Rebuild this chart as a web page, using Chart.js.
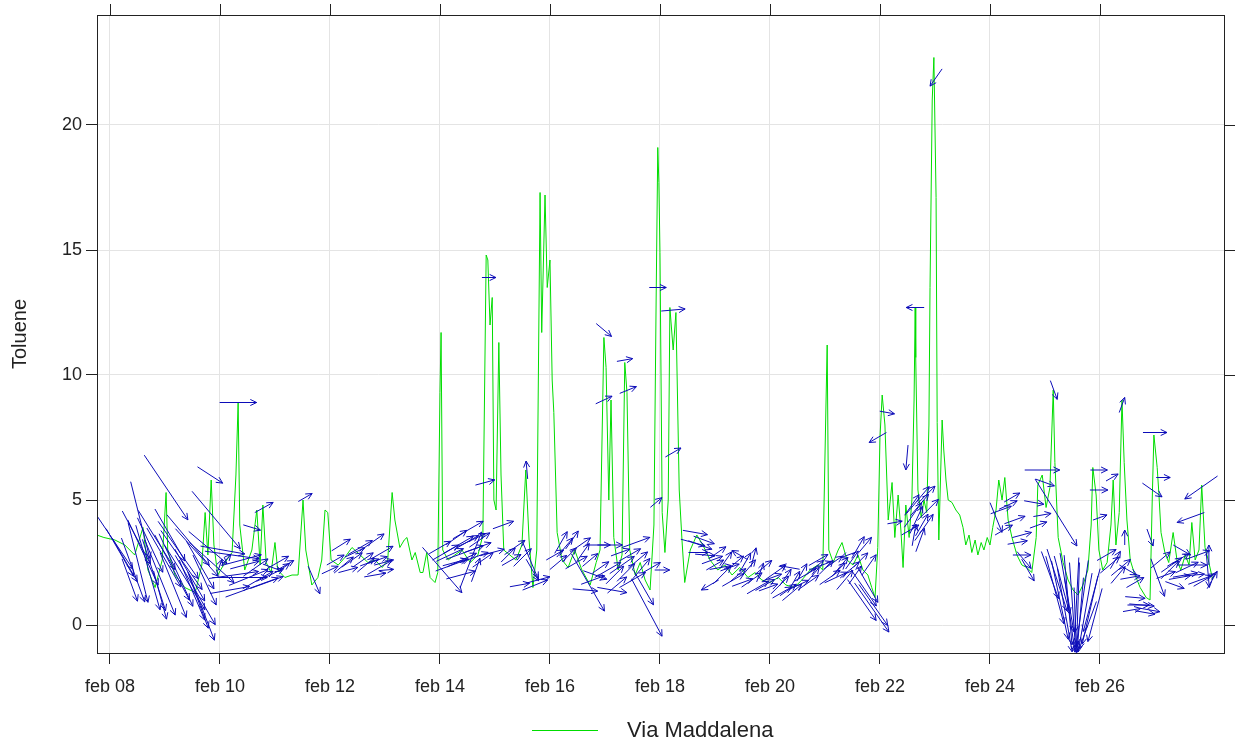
<!DOCTYPE html>
<html>
<head>
<meta charset="utf-8">
<title>Toluene - Via Maddalena</title>
<script src="https://cdn.jsdelivr.net/npm/chart.js@4/dist/chart.umd.min.js"></script>
<style>
  html, body { margin: 0; padding: 0; background: #fff; }
  canvas { display: block; }
</style>
</head>
<body>
<canvas id="grafico" width="1236" height="746"></canvas>
<script>
// concentracion de tolueno (dia de febrero, valor)
const dias = [
  7.76, 7.89, 8.09, 8.27, 8.45, 8.60, 8.69, 8.82, 8.95, 9.02, 9.05, 9.18, 9.36, 9.55, 9.67, 9.73, 9.78, 9.84, 9.89, 9.96,
  10.09, 10.22, 10.29, 10.33, 10.36, 10.45, 10.58, 10.67, 10.73, 10.78, 10.84, 10.93, 11.00, 11.05, 11.18, 11.31, 11.42, 11.51, 11.56, 11.67,
  11.78, 11.85, 11.91, 11.96, 12.02, 12.15, 12.27, 12.40, 12.55, 12.69, 12.82, 12.95, 13.05, 13.13, 13.18, 13.27, 13.35, 13.40, 13.49, 13.55,
  13.64, 13.69, 13.76, 13.82, 13.91, 13.96, 14.00, 14.02, 14.05, 14.15, 14.27, 14.40, 14.55, 14.69, 14.78, 14.84, 14.87, 14.91, 14.95, 14.98,
  15.02, 15.07, 15.11, 15.16, 15.27, 15.38, 15.49, 15.56, 15.62, 15.69, 15.76, 15.82, 15.85, 15.91, 15.95, 16.00, 16.04, 16.07, 16.13, 16.22,
  16.33, 16.45, 16.58, 16.73, 16.84, 16.91, 16.98, 17.02, 17.07, 17.11, 17.16, 17.24, 17.31, 17.36, 17.40, 17.45, 17.55, 17.64, 17.73, 17.82,
  17.89, 17.93, 17.96, 17.98, 18.00, 18.04, 18.09, 18.15, 18.18, 18.24, 18.29, 18.35, 18.40, 18.45, 18.55, 18.67, 18.78, 18.91, 19.05, 19.18,
  19.31, 19.45, 19.60, 19.73, 19.85, 20.00, 20.15, 20.29, 20.44, 20.58, 20.73, 20.87, 20.96, 21.02, 21.04, 21.07, 21.15, 21.24, 21.31, 21.40,
  21.51, 21.60, 21.69, 21.78, 21.85, 21.91, 21.96, 22.00, 22.04, 22.09, 22.15, 22.22, 22.27, 22.33, 22.38, 22.42, 22.47, 22.53, 22.58, 22.62,
  22.64, 22.65, 22.69, 22.75, 22.80, 22.85, 22.89, 22.91, 22.95, 22.98, 23.02, 23.04, 23.07, 23.13, 23.16, 23.20, 23.24, 23.31, 23.38, 23.45,
  23.51, 23.56, 23.62, 23.67, 23.73, 23.78, 23.84, 23.89, 23.95, 24.00, 24.05, 24.11, 24.16, 24.22, 24.27, 24.33, 24.40, 24.49, 24.58, 24.67,
  24.76, 24.84, 24.87, 24.95, 25.02, 25.09, 25.15, 25.18, 25.24, 25.33, 25.42, 25.51, 25.60, 25.69, 25.78, 25.84, 25.87, 25.93, 25.98, 26.05,
  26.13, 26.20, 26.24, 26.29, 26.35, 26.40, 26.44, 26.49, 26.55, 26.62, 26.73, 26.84, 26.91, 26.95, 26.98, 27.04, 27.07, 27.11, 27.18, 27.25,
  27.33, 27.40, 27.47, 27.55, 27.62, 27.67, 27.73, 27.80, 27.85, 27.91, 27.98, 28.05
]
const tolueno = [
  3.6, 3.5, 3.4, 3.2, 2.8, 3.9, 2.2, 1.5, 2.6, 5.3, 3.0, 2.0, 1.5, 1.3, 2.4, 4.5, 2.8, 5.8, 3.2, 2.0,
  2.5, 2.9, 6.0, 8.9, 4.0, 2.2, 3.0, 4.6, 2.4, 4.8, 2.5, 2.1, 3.3, 2.2, 1.9, 2.0, 2.0, 5.0, 3.0, 1.6,
  1.9, 2.6, 4.6, 4.5, 2.6, 2.4, 2.7, 3.1, 2.8, 2.5, 2.6, 2.3, 2.6, 5.3, 4.2, 3.1, 3.4, 3.5, 2.6, 2.9,
  2.1, 2.1, 2.9, 1.9, 1.7, 2.1, 9.3, 11.7, 3.0, 2.6, 2.8, 3.0, 2.5, 2.8, 3.6, 14.8, 14.6, 12.0, 13.1, 5.0,
  4.6, 11.3, 6.0, 3.0, 2.8, 2.6, 3.2, 6.2, 3.4, 1.5, 3.0, 17.3, 11.7, 17.2, 13.5, 14.6, 9.8, 8.5, 3.7, 2.6,
  2.3, 3.0, 2.2, 1.6, 2.5, 3.0, 11.5, 10.3, 5.0, 9.0, 3.5, 2.2, 2.8, 10.5, 9.3, 3.0, 2.0, 2.5, 1.8, 1.4,
  4.0, 13.0, 19.1, 17.7, 14.9, 4.5, 2.9, 5.0, 12.7, 11.0, 12.5, 5.4, 3.4, 1.7, 3.0, 3.6, 3.2, 2.6, 2.2, 2.4,
  2.0, 2.3, 1.9, 2.1, 1.8, 1.7, 1.9, 1.6, 1.5, 1.8, 2.2, 2.4, 2.2, 9.0, 11.2, 3.0, 2.5, 3.0, 3.3, 2.6,
  2.4, 2.8, 2.2, 2.0, 1.5, 1.1, 3.1, 7.5, 9.2, 8.0, 4.2, 5.7, 3.5, 5.2, 3.8, 2.3, 4.8, 3.5, 5.0, 9.0,
  12.7, 10.7, 5.4, 4.3, 5.0, 4.5, 8.0, 13.5, 21.0, 22.7, 17.1, 8.1, 3.4, 8.2, 7.0, 5.8, 5.0, 4.9, 4.6, 4.4,
  3.9, 3.2, 3.6, 2.9, 3.4, 2.8, 3.3, 3.0, 3.5, 3.2, 3.9, 4.6, 5.8, 5.0, 5.9, 4.2, 3.5, 2.8, 2.4, 2.3,
  2.1, 3.5, 5.6, 6.0, 4.7, 5.5, 9.4, 6.5, 3.5, 2.5, 1.8, 1.4, 1.2, 1.6, 2.2, 4.0, 6.3, 5.2, 3.0, 2.2,
  2.5, 4.0, 5.8, 3.2, 4.5, 9.0, 6.5, 4.2, 2.6, 2.1, 1.5, 1.1, 1.0, 5.0, 7.6, 6.3, 5.3, 3.7, 2.9, 2.5,
  3.7, 2.6, 2.2, 2.8, 2.4, 4.1, 2.6, 3.0, 5.6, 3.1, 2.5, 1.8
]

// viento: dia, tolueno en ese momento, velocidad y direccion de procedencia (grados)
const vientoDia = [
  8.09, 8.55, 9.02, 8.51, 8.69, 8.91, 9.13, 9.36, 9.55, 9.67, 9.49, 9.93, 9.82, 8.27, 8.73, 9.24, 9.42, 9.64, 8.36, 8.91, 9.78, 9.09,
  10.33, 10.22, 10.36, 10.58, 10.80, 10.58, 10.00, 10.11, 10.45, 10.69, 10.91, 11.20, 10.18, 10.95,
  11.55, 11.71, 12.00, 12.20, 12.40, 12.55, 12.65, 12.76, 12.87, 12.95, 13.02, 12.33, 12.82, 11.16,
  14.04, 14.56, 14.18, 14.33, 14.45, 14.58, 14.69, 14.27, 14.82, 15.15, 14.89, 14.00, 14.78, 14.51,
  15.24, 15.36, 15.64, 15.73, 15.58, 15.45, 16.09, 16.27, 16.40, 16.55, 16.69, 16.73,
  16.64, 16.82, 16.87, 17.09, 16.98, 17.42, 16.98, 17.36, 17.18, 17.31, 17.45, 17.56, 17.64, 17.76, 17.93, 17.96, 18.24, 18.24, 18.04, 17.13,
  18.64, 18.73, 18.82, 19.00, 19.13, 19.27, 19.42, 19.55, 19.67, 19.82, 19.91, 20.04, 20.18, 20.33, 20.45, 20.64, 20.82, 20.95, 21.09, 21.24,
  21.36, 21.49, 21.60, 21.73, 21.67, 21.85, 21.78, 21.96, 22.13, 19.45, 20.36, 21.42, 18.91,
  22.27, 22.49, 22.64, 22.60, 22.69, 22.76, 22.87, 22.73, 22.55, 23.02,
  24.11, 24.33, 24.45, 24.58, 24.40, 24.58, 24.69, 24.95, 25.00, 24.95, 25.20, 25.16,
  25.18, 25.27, 25.36, 25.45, 25.31, 25.55, 25.64, 25.73, 25.82, 25.91, 25.42, 25.60, 25.09, 25.78,
  25.98, 26.22, 25.98, 26.00, 26.40, 26.45, 26.18, 26.33, 26.51, 26.64, 26.64, 26.76, 26.58, 26.91, 27.00, 27.15, 26.95, 26.91, 27.05, 27.27,
  27.42, 27.55, 27.67, 27.82, 27.36, 27.84, 27.65, 27.96, 28.04, 27.49,
  8.18, 8.42, 8.60, 8.80, 8.98, 9.15, 9.30, 9.45, 9.58, 9.72, 9.85, 8.48, 8.85, 9.20, 9.60,
  10.05, 10.25, 10.40, 10.52, 10.65, 10.85, 11.05, 12.10, 12.25, 12.45, 12.60, 12.72, 12.90, 12.98,
  14.10, 14.22, 14.30, 14.40, 14.48, 14.62, 14.72, 14.95, 14.38, 14.65,
  15.30, 15.50, 15.68, 15.78, 16.15, 16.20, 16.35, 16.48, 16.60,
  16.78, 16.92, 17.05, 17.22, 17.28, 17.38, 17.50, 17.60, 17.70, 17.85,
  18.60, 18.70, 18.80, 18.95, 19.05, 19.10, 19.20, 19.33, 19.38, 19.50, 19.62, 19.70, 19.78, 19.88, 19.97, 20.10, 20.22,
  20.28, 20.40, 20.52, 20.58, 20.70, 20.78, 20.88, 21.02, 21.15, 21.20, 21.30, 21.45, 21.55, 21.65, 21.70, 21.80, 21.88,
  22.58, 22.66, 22.72, 22.80, 22.84, 22.62,
  24.20, 24.25, 24.50, 24.62, 24.80, 24.88,
  25.22, 25.40, 25.50, 25.58, 25.68, 25.85,
  26.12, 26.28, 26.38, 26.55, 26.70, 26.82, 27.10, 27.20, 27.30, 27.45, 27.58, 27.72, 27.78, 27.90, 27.98
]
const vientoConc = [
  3.3, 4.2, 5.5, 2.5, 2.3, 1.9, 2.3, 1.9, 1.4, 0.7, 1.4, 4.2, 6.0, 2.6, 3.2, 3.0, 3.4, 2.4, 1.8, 1.2, 3.1, 3.6,
  8.9, 2.8, 1.9, 1.5, 4.7, 3.9, 2.4, 2.6, 2.4, 1.8, 2.0, 2.4, 1.4, 2.3,
  5.1, 1.8, 2.2, 3.2, 2.6, 3.1, 2.4, 3.3, 2.6, 2.9, 2.2, 2.2, 2.0, 2.3,
  2.2, 2.6, 2.8, 3.2, 2.9, 3.4, 3.1, 2.5, 5.7, 4.0, 13.9, 3.1, 2.6, 3.8,
  2.8, 3.1, 2.6, 1.6, 6.2, 1.6, 2.8, 3.1, 3.4, 3.2, 1.7, 2.6,
  1.4, 2.0, 3.2, 3.2, 9.0, 9.4, 11.8, 10.6, 2.0, 2.4, 2.8, 3.3, 2.2, 0.7, 4.9, 13.5, 12.6, 6.9, 2.2, 1.4,
  3.7, 3.2, 2.8, 2.4, 2.0, 2.3, 2.0, 2.5, 1.8, 2.1, 1.6, 1.9, 1.6, 1.4, 1.8, 2.0, 2.3, 2.4, 1.9, 2.2,
  1.8, 2.6, 3.1, 3.2, 1.0, 0.7, 1.6, 7.5, 8.5, 2.8, 2.3, 2.8, 1.6,
  4.1, 6.7, 12.7, 4.4, 5.0, 4.0, 4.6, 3.4, 3.8, 21.9,
  4.3, 4.8, 4.2, 3.6, 5.1, 2.8, 2.2, 6.2, 5.7, 4.4, 4.5, 9.4,
  1.4, 1.0, 0.6, 0.4, 1.6, 0.2, 0.4, 0.5, 0.6, 0.4, 1.0, 0.8, 2.0, 0.0,
  6.2, 5.9, 5.4, 4.3, 8.8, 3.5, 2.4, 2.0, 2.2, 1.7, 1.1, 0.8, 0.6, 0.6, 7.7, 5.9, 5.4, 3.5, 1.9, 2.2,
  2.6, 2.0, 2.4, 1.8, 1.6, 5.5, 4.3, 2.2, 1.8, 3.0,
  2.9, 2.2, 2.9, 2.0, 2.7, 1.6, 2.6, 2.0, 2.9, 1.8, 2.5, 3.5, 3.4, 2.2, 1.0,
  3.0, 2.0, 2.6, 1.9, 2.3, 1.7, 2.5, 2.6, 2.4, 2.9, 2.6, 2.5, 2.3, 2.5,
  2.9, 2.4, 3.5, 2.6, 3.3, 2.7, 3.4, 2.9, 2.0, 2.2,
  2.6, 2.7, 2.2, 1.8, 2.5, 3.3, 2.8, 2.5, 2.9,
  1.8, 2.3, 2.2, 1.6, 2.9, 2.1, 1.8, 2.6, 1.5, 2.3,
  3.3, 2.9, 3.4, 2.6, 2.9, 2.3, 2.6, 1.8, 2.5, 1.7, 2.3, 2.7, 1.5, 2.3, 1.5, 2.1, 1.3,
  1.9, 1.3, 1.6, 2.1, 1.7, 2.0, 2.6, 2.3, 2.5, 1.9, 2.4, 2.2, 2.0, 2.6, 1.5, 2.4, 0.8,
  4.8, 4.2, 4.8, 3.9, 5.2, 3.6,
  4.6, 3.8, 3.3, 2.6, 4.9, 4.0,
  1.8, 1.3, 0.8, 1.2, 0.9, 1.0,
  2.8, 2.6, 2.3, 1.9, 0.8, 0.5, 2.6, 2.0, 2.4, 1.9, 2.3, 2.0, 2.8, 1.8, 2.8
]
const vientoVel = [
  6.4, 7.9, 7.8, 8.2, 8.8, 8.1, 7.4, 7.6, 8.0, 7.0, 6.5, 7.5, 3.0, 5.0, 6.0, 7.0, 6.6, 5.5, 4.5, 5.0, 5.0, 6.0,
  3.7, 5.5, 5.5, 5.6, 2.1, 1.8, 1.2, 1.5, 3.0, 3.5, 3.0, 1.8, 4.0, 2.0,
  1.6, 3.0, 1.8, 2.2, 2.5, 2.8, 2.2, 3.0, 2.0, 2.5, 1.5, 2.0, 2.2, 1.4,
  6.0, 6.0, 3.0, 3.5, 4.0, 3.0, 2.8, 2.5, 2.0, 2.2, 1.4, 2.5, 2.5, 3.5,
  2.0, 2.5, 4.0, 2.7, 1.8, 2.0, 2.0, 2.5, 2.2, 2.5, 6.6, 2.0,
  2.5, 2.5, 2.5, 2.5, 1.8, 1.8, 2.0, 1.6, 2.5, 3.0, 2.5, 3.0, 3.0, 6.5, 1.5, 1.7, 2.4, 1.8, 1.5, 3.0,
  2.5, 2.5, 2.0, 2.0, 2.5, 2.0, 2.0, 2.2, 2.5, 2.0, 2.2, 2.0, 2.5, 2.0, 2.0, 2.5, 2.2, 2.0, 2.5, 2.0,
  2.5, 2.2, 2.5, 2.0, 5.0, 6.0, 4.0, 2.0, 1.5, 1.8, 2.0, 1.5, 2.0,
  1.5, 2.5, 1.8, 3.0, 3.5, 2.5, 3.0, 2.5, 2.0, 2.1,
  3.2, 2.0, 2.2, 2.0, 1.8, 1.8, 2.5, 3.5, 2.0, 1.8, 7.9, 2.0,
  7.0, 8.0, 8.5, 7.5, 6.0, 6.5, 7.5, 8.0, 7.0, 5.5, 9.0, 8.5, 5.0, 5.0,
  1.7, 1.4, 1.8, 1.5, 1.6, 1.5, 2.5, 2.2, 2.0, 2.0, 2.0, 2.5, 1.8, 2.0, 2.4, 1.4, 2.4, 1.8, 4.0, 2.5,
  2.5, 2.5, 3.0, 2.5, 2.0, 4.0, 2.9, 3.5, 2.0, 2.0,
  5.5, 6.8, 7.2, 7.5, 6.8, 7.0, 7.2, 6.0, 6.4, 5.5, 6.0, 6.0, 7.0, 8.0, 6.0,
  4.5, 5.0, 4.0, 4.2, 3.0, 3.5, 2.5, 2.0, 2.5, 2.2, 2.5, 2.0, 2.8, 2.0,
  3.0, 3.5, 2.5, 3.2, 2.8, 3.0, 2.5, 2.5, 3.0, 2.5,
  2.2, 2.5, 2.5, 2.5, 2.2, 2.5, 2.0, 2.5, 2.2,
  2.5, 2.0, 3.0, 2.5, 2.0, 2.5, 3.0, 2.5, 4.0, 2.0,
  2.5, 2.0, 2.2, 2.2, 2.0, 2.2, 2.0, 2.5, 2.0, 2.2, 2.0, 2.0, 2.5, 2.2, 2.0, 2.5, 2.2,
  2.0, 2.5, 2.2, 2.0, 2.5, 2.0, 2.2, 2.0, 2.2, 2.5, 2.0, 2.5, 2.2, 2.0, 4.5, 2.5, 5.0,
  2.5, 3.0, 2.8, 3.2, 2.5, 2.2,
  2.2, 2.0, 2.0, 2.2, 2.0, 1.8,
  6.5, 8.0, 8.5, 7.5, 8.5, 6.5,
  2.2, 2.0, 2.5, 2.0, 2.2, 2.0, 2.5, 2.0, 2.5, 2.2, 2.5, 2.0, 2.5, 2.5, 2.0
]
const vientoDir = [
  326, 346, 326, 346, 344, 338, 332, 328, 330, 339, 337, 320, 303, 330, 335, 325, 320, 330, 340, 345, 310, 330,
  270, 278, 270, 250, 241, 287, 200, 220, 255, 240, 245, 240, 260, 290,
  240, 337, 245, 238, 235, 240, 230, 235, 250, 240, 265, 255, 260, 235,
  319, 201, 245, 240, 250, 245, 250, 255, 255, 250, 270, 240, 235, 240,
  225, 235, 337, 248, 175, 260, 240, 220, 215, 235, 330, 230,
  275, 290, 270, 270, 245, 248, 310, 260, 225, 235, 240, 250, 220, 332, 230, 270, 265, 240, 270, 280,
  280, 290, 275, 240, 225, 250, 230, 210, 235, 200, 240, 250, 225, 235, 210, 240, 230, 250, 235, 225,
  220, 215, 210, 220, 325, 325, 330, 60, 280, 120, 100, 70, 60,
  260, 5, 90, 215, 220, 210, 225, 200, 240, 35,
  338, 245, 250, 255, 240, 270, 330, 270, 290, 260, 328, 340,
  345, 348, 350, 352, 345, 358, 5, 10, 13, 15, 355, 2, 340, 20,
  270, 240, 270, 250, 200, 180, 230, 220, 300, 240, 275, 275, 260, 280, 270, 270, 305, 340, 340, 225,
  240, 260, 270, 250, 290, 55, 70, 355, 210, 300,
  330, 340, 335, 342, 330, 338, 325, 330, 318, 335, 312, 332, 328, 335, 340,
  280, 262, 255, 248, 235, 250, 240, 240, 230, 245, 235, 250, 240, 255,
  240, 250, 235, 245, 240, 250, 235, 255, 255, 200,
  240, 225, 330, 255, 230, 210, 225, 240, 215,
  250, 235, 240, 230, 250, 225, 240, 230, 330, 240,
  285, 270, 290, 250, 235, 260, 215, 240, 230, 250, 220, 195, 240, 230, 250, 235, 240,
  215, 230, 245, 210, 235, 220, 240, 225, 235, 245, 220, 230, 215, 225, 325, 215, 325,
  215, 205, 220, 215, 225, 190,
  250, 240, 260, 320, 280, 250,
  342, 350, 356, 3, 8, 15,
  240, 210, 230, 260, 270, 280, 230, 250, 235, 260, 245, 265, 250, 240, 180
]

// marcas de los ejes
const marcasX = [8, 10, 12, 14, 16, 18, 20, 22, 24, 26]
const marcasY = [0, 5, 10, 15, 20]

const etiquetaSerie = 'Via Maddalena'
const tituloY = 'Toluene'
const colorLinea = '#00dd00'
const colorFlecha = '#0c0cb8'
const pxPorVel = 10   // largo de la flecha por unidad de velocidad

Chart.defaults.font.family = "'Liberation Sans', Arial, sans-serif"
Chart.defaults.color = '#222'

// flechas de viento centradas en cada medicion
const flechas = {
  id: 'flechas',
  afterDatasetsDraw(chart) {
    const { ctx, chartArea: a, scales: { x, y } } = chart
    ctx.save()
    ctx.beginPath()
    ctx.rect(a.left, a.top, a.right - a.left, a.bottom - a.top)
    ctx.clip()
    ctx.strokeStyle = colorFlecha
    ctx.lineWidth = 1
    vientoDia.forEach((d, i) => {
      const cx = x.getPixelForValue(d)
      const cy = y.getPixelForValue(vientoConc[i])
      const rumbo = (vientoDir[i] + 180) * Math.PI / 180
      const medio = vientoVel[i] * pxPorVel / 2
      const ux = Math.sin(rumbo)
      const uy = -Math.cos(rumbo)
      const x0 = cx - ux * medio, y0 = cy - uy * medio
      const x1 = cx + ux * medio, y1 = cy + uy * medio
      const ang = Math.atan2(y1 - y0, x1 - x0)
      ctx.beginPath()
      ctx.moveTo(x0, y0)
      ctx.lineTo(x1, y1)
      for (const s of [-1, 1]) {
        ctx.moveTo(x1, y1)
        ctx.lineTo(x1 - 7 * Math.cos(ang + s * 0.45), y1 - 7 * Math.sin(ang + s * 0.45))
      }
      ctx.stroke()
    })
    ctx.restore()
  }
}

// marco completo, marcas de arriba y derecha, y leyenda
const marco = {
  id: 'marco',
  afterDraw(chart) {
    const { ctx, chartArea: a, scales: { x, y } } = chart
    ctx.save()
    ctx.strokeStyle = '#222'
    ctx.lineWidth = 1
    ctx.strokeRect(a.left + 0.5, a.top + 0.5, a.right - a.left, a.bottom - a.top)
    ctx.beginPath()
    x.ticks.forEach(t => {
      const px = Math.round(x.getPixelForValue(t.value)) + 0.5
      ctx.moveTo(px, a.top)
      ctx.lineTo(px, a.top - 11)
    })
    y.ticks.forEach(t => {
      const py = Math.round(y.getPixelForValue(t.value)) + 0.5
      ctx.moveTo(a.right, py)
      ctx.lineTo(a.right + 11, py)
    })
    ctx.stroke()

    ctx.strokeStyle = colorLinea
    ctx.beginPath()
    ctx.moveTo(532, 730.5)
    ctx.lineTo(598, 730.5)
    ctx.stroke()
    ctx.fillStyle = '#222'
    ctx.font = "22px 'Liberation Sans', Arial, sans-serif"
    ctx.textBaseline = 'middle'
    ctx.fillText(etiquetaSerie, 627, 731)
    ctx.restore()
  }
}

const puntos = dias.map((d, i) => ({ x: d, y: tolueno[i] }))

const config = {
  type: 'line',
  data: {
    datasets: [{
      label: etiquetaSerie,
      data: puntos,
      borderColor: colorLinea,
      borderWidth: 1,
      pointRadius: 0,
      tension: 0
    }]
  },
  options: {
    responsive: false,
    animation: false,
    devicePixelRatio: 1,
    layout: { padding: { top: 15, right: 12, left: 0, bottom: 0 } },
    plugins: { legend: { display: false }, tooltip: { enabled: false } },
    scales: {
      x: {
        type: 'linear',
        min: 7.764,
        max: 28.255,
        afterFit: s => { s.height = 93 },
        afterBuildTicks: s => { s.ticks = marcasX.map(v => ({ value: v })) },
        ticks: {
          autoSkip: false,
          maxRotation: 0,
          padding: 12,
          font: { size: 18 },
          callback: v => 'feb ' + String(v).padStart(2, '0')
        },
        grid: { color: '#e4e4e4', tickColor: '#222', tickLength: 11 },
        border: { display: false }
      },
      y: {
        min: -1.12,
        max: 24.4,
        afterFit: s => { s.width = 97 },
        afterBuildTicks: s => { s.ticks = marcasY.map(v => ({ value: v })) },
        ticks: { padding: 4, font: { size: 18 } },
        grid: { color: '#e4e4e4', tickColor: '#222', tickLength: 11 },
        border: { display: false },
        title: { display: true, text: tituloY, font: { size: 20 }, padding: { top: 8, bottom: 0 } }
      }
    }
  },
  plugins: [flechas, marco]
}

new Chart(document.querySelector('#grafico'), config)
</script>
</body>
</html>
